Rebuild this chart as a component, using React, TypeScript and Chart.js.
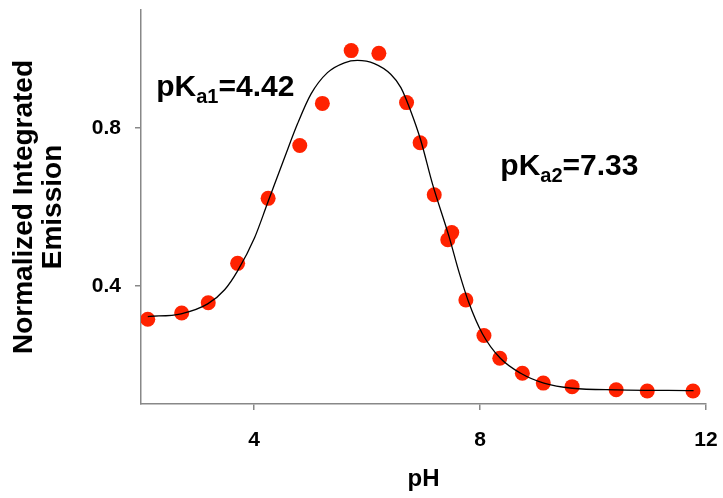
import React, { useEffect, useRef } from 'react';
import { Chart, registerables } from 'chart.js';

Chart.register(...registerables);

// Measured data points (pH vs normalized integrated emission)
const phData = [2.12, 2.72, 3.19, 3.71, 4.25, 4.81, 5.21, 5.72, 6.21, 6.70, 6.94, 7.19, 7.43, 7.50, 7.75, 8.07, 8.35, 8.75, 9.12, 9.63, 10.41, 10.96, 11.77];
const emissionData = [0.315, 0.331, 0.357, 0.457, 0.622, 0.756, 0.863, 0.997, 0.990, 0.865, 0.763, 0.631, 0.517, 0.535, 0.364, 0.274, 0.216, 0.178, 0.153, 0.144, 0.136, 0.133, 0.133];

// Fitted curve
const fitPh = [2.12, 2.71, 3.18, 3.48, 3.71, 4.01, 4.24, 4.54, 4.77, 5.01, 5.30, 5.60, 5.83, 6.13, 6.42, 6.60, 6.77, 6.95, 7.16, 7.45, 7.63, 7.80, 8.04, 8.36, 8.72, 9.13, 9.63, 10.43, 11.78];
const fitEmission = [0.322, 0.329, 0.354, 0.390, 0.438, 0.522, 0.610, 0.725, 0.811, 0.887, 0.941, 0.966, 0.972, 0.964, 0.937, 0.903, 0.845, 0.770, 0.658, 0.526, 0.434, 0.358, 0.279, 0.216, 0.178, 0.153, 0.140, 0.136, 0.134];

const xTicks = [4, 8, 12];
const yTicks = [0.4, 0.8];

const pkaLabels = [
  { x: 2.27, y: 0.882, sub: 'a1', rest: '=4.42' },
  { x: 8.36, y: 0.681, sub: 'a2', rest: '=7.33' },
];

const FONT = '"Liberation Sans", Arial, Helvetica, sans-serif';

const pkaPlugin = {
  id: 'pkaLabels',
  afterDraw(chart: any) {
    const { ctx, scales } = chart;
    const xs = scales.x;
    const ys = scales.y;
    pkaLabels.forEach((a) => {
      let px = xs.getPixelForValue(a.x);
      const py = ys.getPixelForValue(a.y);
      ctx.save();
      ctx.fillStyle = '#000';
      ctx.textAlign = 'left';
      ctx.textBaseline = 'alphabetic';
      const main = `bold 30px ${FONT}`;
      const sub = `bold 20px ${FONT}`;
      ctx.font = main;
      ctx.fillText('pK', px, py);
      px += ctx.measureText('pK').width;
      ctx.font = sub;
      ctx.fillText(a.sub, px, py + 7);
      px += ctx.measureText(a.sub).width;
      ctx.font = main;
      ctx.fillText(a.rest, px, py);
      ctx.restore();
    });
  },
};

export default function App() {
  const canvasRef = useRef<HTMLCanvasElement | null>(null);

  useEffect(() => {
    if (!canvasRef.current) return;
    const chart = new Chart(canvasRef.current, {
      type: 'scatter',
      data: {
        datasets: [
          {
            label: 'Fit',
            data: fitPh.map((x, i) => ({ x, y: fitEmission[i] })),
            showLine: true,
            borderColor: '#000',
            borderWidth: 1.3,
            pointRadius: 0,
            cubicInterpolationMode: 'monotone',
            fill: false,
            order: 0,
          },
          {
            label: 'Data',
            data: phData.map((x, i) => ({ x, y: emissionData[i] })),
            showLine: false,
            pointRadius: 7.5,
            pointBackgroundColor: '#ff2200',
            pointBorderColor: '#ff2200',
            pointBorderWidth: 0,
            order: 1,
          },
        ],
      },
      options: {
        responsive: false,
        animation: false,
        devicePixelRatio: 1,
        layout: { padding: { top: 10, right: 17, bottom: 0, left: 0 }, autoPadding: false },
        plugins: { legend: { display: false }, tooltip: { enabled: false } },
        scales: {
          x: {
            type: 'linear',
            min: 2,
            max: 12,
            afterBuildTicks: (s: any) => {
              s.ticks = xTicks.map((v) => ({ value: v }));
            },
            afterFit: (s: any) => {
              s.height = 94;
              s.paddingLeft = 0;
              s.paddingRight = 0;
              s.paddingTop = 0;
              s.paddingBottom = 0;
            },
            grid: { display: true, drawOnChartArea: false, drawTicks: true, tickLength: 6, color: '#888', lineWidth: 1.5 },
            border: { display: true, color: '#888', width: 1.5 },
            ticks: {
              color: '#000',
              padding: 18,
              font: { family: FONT, size: 21, weight: 'bold' },
              callback: (v: any) => String(v),
            },
            title: {
              display: true,
              text: 'pH',
              color: '#000',
              font: { family: FONT, size: 24, weight: 'bold' },
              padding: { top: 0, bottom: 4 },
            },
          },
          y: {
            type: 'linear',
            min: 0.1,
            max: 1.1,
            afterBuildTicks: (s: any) => {
              s.ticks = yTicks.map((v) => ({ value: v }));
            },
            afterFit: (s: any) => {
              s.width = 141;
              s.paddingLeft = 0;
              s.paddingRight = 0;
              s.paddingTop = 0;
              s.paddingBottom = 0;
            },
            grid: { display: true, drawOnChartArea: false, drawTicks: true, tickLength: 6, color: '#888', lineWidth: 1.5 },
            border: { display: true, color: '#888', width: 1.5 },
            ticks: {
              color: '#000',
              padding: 14,
              font: { family: FONT, size: 21, weight: 'bold' },
              callback: (v: any) => Number(v).toFixed(1),
            },
            title: {
              display: true,
              text: ['Normalized Integrated', 'Emission'],
              color: '#000',
              font: { family: FONT, size: 28, weight: 'bold', lineHeight: 1.04 },
              padding: { top: 10, bottom: 0 },
            },
          },
        },
      },
      plugins: [pkaPlugin],
    });
    return () => chart.destroy();
  }, []);

  return (
    <div style={{ position: 'absolute', left: 0, top: 0, width: 723, height: 498, background: '#fff' }}>
      <canvas ref={canvasRef} width={723} height={498} style={{ display: 'block', width: 723, height: 498 }} />
    </div>
  );
}
